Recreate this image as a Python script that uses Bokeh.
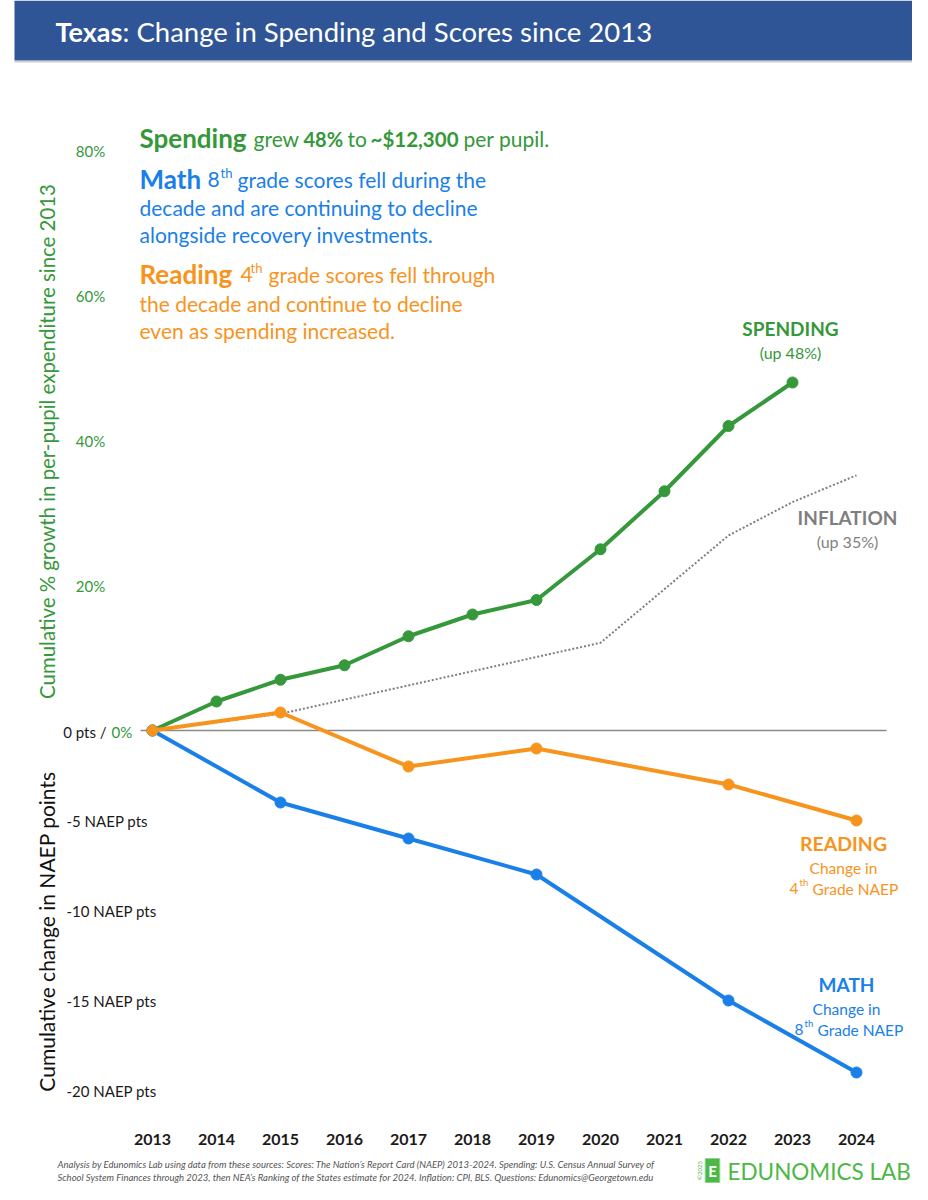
import math
from bokeh.plotting import figure
from bokeh.models import Range1d, Label, BoxAnnotation
from bokeh.core.properties import value
from bokeh.embed import file_html
from bokeh.resources import INLINE

# ---------------- data ----------------
years = [2013, 2014, 2015, 2016, 2017, 2018, 2019, 2020, 2021, 2022, 2023, 2024]
year_labels = [str(y) for y in years]

spend_years = [2013, 2014, 2015, 2016, 2017, 2018, 2019, 2020, 2021, 2022, 2023]
spending_pct = [0, 4, 7, 9, 13, 16, 18, 25, 33, 42, 48]

infl_years = [2013, 2015, 2020, 2022, 2023, 2024]
inflation_pct = [0, 2.3, 12.1, 26.9, 31.5, 35.2]

naep_years = [2013, 2015, 2017, 2019, 2022, 2024]
math_pts = [0, -4, -6, -8, -15, -19]
reading_pts = [0, 1, -2, -1, -3, -5]

pct_ticks = [20, 40, 60, 80]
pct_tick_labels = ["20%", "40%", "60%", "80%"]
naep_ticks = [-5, -10, -15, -20]
naep_tick_labels = ["-5 NAEP pts", "-10 NAEP pts", "-15 NAEP pts", "-20 NAEP pts"]

# ---------------- style ----------------
GREEN = "#35983A"
BLUE = "#1A80E8"
ORANGE = "#F7941D"
GRAY = "#7F7F7F"
BAR = "#2F5597"
LOGO = "#4DB848"
FONT = "Lato"

W, H = 912, 1184
OX, OY = 0, 0                 # where the canvas sits in the picture
X0_PAGE, PX_PER_YEAR = 152, 64
ZERO_PAGE, PX_PER_PCT, PX_PER_PT = 730, 7.25, 18.0

x_start = years[0] - (X0_PAGE - OX) / PX_PER_YEAR
x_end = x_start + W / PX_PER_YEAR
y_end = (ZERO_PAGE - OY) / PX_PER_PCT
y_start = y_end - H / PX_PER_PCT


def PX(xp):
    return x_start + (xp - OX) / PX_PER_YEAR


def PY(yp):
    return y_end - (yp - OY) / PX_PER_PCT


p = figure(width=W, height=H, title=None,
           x_range=Range1d(x_start, x_end), y_range=Range1d(y_start, y_end),
           output_backend="svg", toolbar_location=None,
           x_axis_location=None, y_axis_location=None,
           min_border=0, min_border_left=0, min_border_right=0,
           min_border_top=0, min_border_bottom=0)
p.extra_y_ranges = {"naep": Range1d(y_start * PX_PER_PCT / PX_PER_PT,
                                    y_end * PX_PER_PCT / PX_PER_PT)}
p.grid.visible = False
p.outline_line_color = None
p.background_fill_color = "white"
p.border_fill_color = "white"


def lab(text, xp, yp, size, color, style="normal", align="left", angle=0.0):
    p.add_layout(Label(x=PX(xp), y=PY(yp), text=text, text_font=FONT,
                       text_font_size=f"{size}px", text_color=color,
                       text_font_style=style, text_align=align,
                       text_baseline="middle", angle=angle))


# ---------------- title bar ----------------
p.add_layout(BoxAnnotation(left=PX(14), right=PX(914), top=y_end, bottom=PY(60),
                           fill_color=BAR, fill_alpha=1.0, line_color=None))
p.add_layout(BoxAnnotation(left=PX(14), right=PX(914), top=PY(60), bottom=PY(62),
                           fill_color="#9a9a9a", fill_alpha=0.5, line_color=None))
lab("Texas", 55, 31, 27, "white", "bold")
lab(": Change in Spending and Scores since 2013", 122, 31, 27.5, "white")

# ---------------- lines ----------------
p.segment(x0=[years[0] - 12 / PX_PER_YEAR], y0=[0],
          x1=[years[-1] + 30 / PX_PER_YEAR], y1=[0],
          line_color="#8a8a8a", line_width=1.5)
p.line(infl_years, inflation_pct, line_color=GRAY, line_width=2, line_dash="2 2")
p.line(spend_years, spending_pct, line_color=GREEN, line_width=4)
p.scatter(spend_years, spending_pct, size=11, color=GREEN)
p.line(naep_years, math_pts, y_range_name="naep", line_color=BLUE, line_width=4)
p.scatter(naep_years, math_pts, y_range_name="naep", size=11, color=BLUE)
p.line(naep_years, reading_pts, y_range_name="naep", line_color=ORANGE, line_width=4)
p.scatter(naep_years, reading_pts, y_range_name="naep", size=11, color=ORANGE)

# ---------------- tick labels ----------------
p.text(x=years, y=[PY(1139)] * len(years), text=year_labels,
       text_font=value(FONT), text_font_style="bold", text_font_size="16px",
       text_align="center", text_baseline="middle", text_color="#1a1a1a")
p.text(x=[PX(90)] * len(pct_ticks), y=pct_ticks, text=pct_tick_labels,
       text_font=value(FONT), text_font_size="15px",
       text_align="center", text_baseline="middle", text_color=GREEN)
p.text(x=[PX(66)] * len(naep_ticks), y=naep_ticks, y_range_name="naep",
       text=naep_tick_labels, text_font=value(FONT), text_font_size="15px",
       text_align="left", text_baseline="middle", text_color="#1a1a1a")
lab("0 pts /", 106, 731, 15, "#1a1a1a", align="right")
lab("0%", 111, 731, 15, GREEN)

# axis titles
lab("Cumulative % growth in per-pupil expenditure since 2013", 46, 441, 20.4, GREEN,
    align="center", angle=math.pi / 2)
lab("Cumulative change in NAEP points", 46, 931, 21, "#111111",
    align="center", angle=math.pi / 2)

# ---------------- text block ----------------
lab("Spending", 139, 137, 26, GREEN, "bold")
lab("grew", 253, 138, 21, GREEN)
lab("48%", 303, 138, 20, GREEN, "bold")
lab("to", 347, 138, 21, GREEN)
lab("~$12,300", 370, 138, 20.5, GREEN, "bold")
lab("per pupil.", 463, 138, 21, GREEN)

lab("Math", 139, 178, 26, BLUE, "bold")
lab("8", 207, 179, 21, BLUE)
lab("th", 220, 172, 13, BLUE)
lab("grade scores fell during the", 237, 179, 21, BLUE)
lab("decade and are continuing to decline", 139, 207, 21, BLUE)
lab("alongside recovery investments.", 139, 234, 21, BLUE)

lab("Reading", 139, 273, 26, ORANGE, "bold")
lab("4", 240, 274, 21, ORANGE)
lab("th", 250, 267, 13, ORANGE)
lab("grade scores fell through", 268, 274, 21, ORANGE)
lab("the decade and continue to decline", 139, 303, 21, ORANGE)
lab("even as spending increased.", 139, 330, 21, ORANGE)

# ---------------- right-side series labels ----------------
lab("SPENDING", 790, 328, 19, GREEN, "bold", "center")
lab("(up 48%)", 790, 352, 16, GREEN, align="center")
lab("INFLATION", 847, 517, 19, GRAY, "bold", "center")
lab("(up 35%)", 847, 541, 16, GRAY, align="center")

lab("READING", 843, 843, 19.5, ORANGE, "bold", "center")
lab("Change in", 843, 867, 15.5, ORANGE, align="center")
lab("4", 798, 888, 15.5, ORANGE, align="right")
lab("th", 799, 882, 9.5, ORANGE)
lab("Grade NAEP", 812, 888, 15.5, ORANGE)

lab("MATH", 846, 984, 19, BLUE, "bold", "center")
lab("Change in", 846, 1008, 15.5, BLUE, align="center")
lab("8", 803, 1029, 15.5, BLUE, align="right")
lab("th", 804, 1023, 9.5, BLUE)
lab("Grade NAEP", 817, 1029, 15.5, BLUE)

# ---------------- footer ----------------
foot1 = ("Analysis by Edunomics Lab using data from these sources: Scores: The Nation\u2019s "
         "Report Card (NAEP) 2013-2024. Spending: U.S. Census Annual Survey of")
foot2 = ("School System Finances through 2023, then NEA\u2019s Ranking of the States estimate "
         "for 2024. Inflation: CPI, BLS. Questions: Edunomics@Georgetown.edu")
lab(foot1, 57, 1164, 9.5, "#555555", "italic")
lab(foot2, 57, 1177, 9.5, "#555555", "italic")

# logo
lab("\u00a92025", 699, 1170, 6, LOGO, align="center", angle=math.pi / 2)
p.add_layout(Label(x=PX(712), y=PY(1170), text="E", text_font=FONT,
                   text_font_size="15px", text_font_style="bold", text_color="white",
                   text_align="center", text_baseline="middle",
                   background_fill_color=LOGO, background_fill_alpha=1.0,
                   border_line_color="#8fd68a", border_line_width=1, padding=3))
lab("EDUNOMICS LAB", 727, 1171, 22.5, LOGO)

open("out.html", "w").write(file_html(p, INLINE))
